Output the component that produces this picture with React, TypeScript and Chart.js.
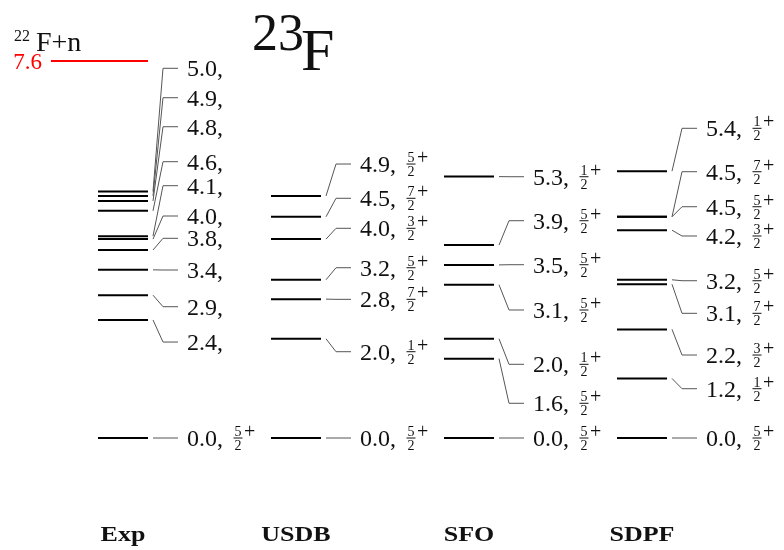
import React, { useEffect, useRef } from "react";
import { Chart, registerables } from "chart.js";

Chart.register(...registerables);

// ---------- data ----------
const columnNames = ["Exp", "USDB", "SFO", "SDPF"];

const expEnergies = [0.0, 2.38, 2.88, 3.39, 3.79, 4.01, 4.07, 4.58, 4.78, 4.88, 4.97];
const expSpins: (number | null)[] = [5, null, null, null, null, null, null, null, null, null, null];

const usdbEnergies = [0.0, 2.0, 2.8, 3.19, 4.01, 4.46, 4.88];
const usdbSpins: (number | null)[] = [5, 1, 7, 5, 3, 7, 5];

const sfoEnergies = [0.0, 1.6, 2.0, 3.09, 3.49, 3.89, 5.27];
const sfoSpins: (number | null)[] = [5, 5, 1, 5, 5, 5, 1];

const sdpfEnergies = [0.0, 1.2, 2.19, 3.1, 3.19, 4.19, 4.46, 4.46, 5.38];
const sdpfSpins: (number | null)[] = [5, 1, 3, 7, 5, 3, 5, 7, 1];

const thresholdEnergy = 7.6;
const thresholdLabel = "F+n";
const thresholdMass = "22";
const nucleusMass = "23";
const nucleusSymbol = "F";

// ---------- layout (label positions, in energy units, spread to avoid overlap) ----------
const expLabelAt = [0, 1.935, 2.647, 3.387, 4.026, 4.476, 5.087, 5.571, 6.276, 6.861, 7.454];
const usdbLabelAt = [0, 1.74, 2.796, 3.433, 4.228, 4.833, 5.524];
const sfoLabelAt = [0, 0.7, 1.486, 2.581, 3.494, 4.381, 5.268];
const sdpfLabelAt = [0, 0.994, 1.673, 2.514, 3.171, 4.073, 4.663, 5.369, 6.244];

const columns = [
  { energies: expEnergies, spins: expSpins, labelAt: expLabelAt },
  { energies: usdbEnergies, spins: usdbSpins, labelAt: usdbLabelAt },
  { energies: sfoEnergies, spins: sfoSpins, labelAt: sfoLabelAt },
  { energies: sdpfEnergies, spins: sdpfSpins, labelAt: sdpfLabelAt },
];

const LEVEL_W = 0.289; // width of a level line in column units
const THRESH_START = -0.272;
const SERIF = "'Liberation Serif', 'DejaVu Serif', serif";

const levelPlugin = {
  id: "levelLabels",
  afterDatasetsDraw(chart: any) {
    const ctx = chart.ctx as CanvasRenderingContext2D;
    const xs = chart.scales.x;
    const ys = chart.scales.y;
    ctx.save();

    columns.forEach((col, c) => {
      const xEnd = xs.getPixelForValue(c + LEVEL_W);
      col.energies.forEach((E, i) => {
        const yL = ys.getPixelForValue(E);
        const yT = ys.getPixelForValue(col.labelAt[i]);
        ctx.strokeStyle = "#555";
        ctx.lineWidth = 1;
        ctx.beginPath();
        ctx.moveTo(xEnd + 5, yL);
        ctx.lineTo(xEnd + 15, yT);
        ctx.lineTo(xEnd + 30, yT);
        ctx.stroke();

        const tx = xEnd + 39;
        const s = E.toFixed(1) + ",";
        ctx.fillStyle = "#111";
        ctx.font = `24px ${SERIF}`;
        ctx.textAlign = "left";
        ctx.textBaseline = "alphabetic";
        ctx.fillText(s, tx, yT + 8);
        const spin = col.spins[i];
        if (spin != null) {
          const fx = tx + ctx.measureText(s).width + 11;
          ctx.font = `14px ${SERIF}`;
          ctx.textAlign = "center";
          ctx.fillText(String(spin), fx + 4, yT - 2);
          ctx.fillText("2", fx + 4, yT + 12);
          ctx.fillRect(fx - 0.5, yT - 0.5, 9, 1);
          ctx.font = `20px ${SERIF}`;
          ctx.textAlign = "left";
          ctx.fillText("+", fx + 10, yT);
        }
      });
    });

    // threshold label
    const yTh = ys.getPixelForValue(thresholdEnergy);
    const xTh = xs.getPixelForValue(THRESH_START);
    ctx.fillStyle = "#ff0000";
    ctx.font = `23px ${SERIF}`;
    ctx.textAlign = "right";
    ctx.fillText(thresholdEnergy.toFixed(1), xTh - 9, yTh + 8);
    ctx.fillStyle = "#111";
    ctx.textAlign = "left";
    ctx.font = `16px ${SERIF}`;
    ctx.fillText(thresholdMass, 14, yTh - 20);
    ctx.font = `28px ${SERIF}`;
    ctx.fillText(thresholdLabel, 36, yTh - 10);

    // title
    ctx.font = `52px ${SERIF}`;
    ctx.fillText(nucleusMass, 252, 50);
    ctx.font = `60px ${SERIF}`;
    ctx.fillText(nucleusSymbol, 301, 70);

    // column names
    columnNames.forEach((name, c) => {
      const cx = (xs.getPixelForValue(c) + xs.getPixelForValue(c + LEVEL_W)) / 2;
      ctx.save();
      ctx.translate(cx, 541);
      ctx.scale(1.3, 1);
      ctx.font = `bold 20px ${SERIF}`;
      ctx.textAlign = "center";
      ctx.fillStyle = "#111";
      ctx.fillText(name, 0, 0);
      ctx.restore();
    });

    ctx.restore();
  },
};

export default function App() {
  const ref = useRef<HTMLCanvasElement>(null);
  useEffect(() => {
    if (!ref.current) return;
    const datasets: any[] = [];
    columns.forEach((col, c) => {
      col.energies.forEach((E) => {
        datasets.push({
          data: [
            { x: c, y: E },
            { x: c + LEVEL_W, y: E },
          ],
          borderColor: "#000",
          borderWidth: 2,
          pointRadius: 0,
          borderCapStyle: "butt",
        });
      });
    });
    datasets.push({
      data: [
        { x: THRESH_START, y: thresholdEnergy },
        { x: LEVEL_W, y: thresholdEnergy },
      ],
      borderColor: "#ff0000",
      borderWidth: 2,
      pointRadius: 0,
    });
    const chart = new Chart(ref.current, {
      type: "line",
      data: { datasets },
      options: {
        animation: false,
        responsive: false,
        layout: { padding: 0 },
        plugins: { legend: { display: false }, tooltip: { enabled: false }, title: { display: false } },
        scales: {
          x: { type: "linear", display: false, min: -0.5665, max: 3.9653 },
          y: { type: "linear", display: false, min: -2.258, max: 8.831 },
        },
        events: [],
      },
      plugins: [levelPlugin],
    });
    return () => chart.destroy();
  }, []);
  return (
    <div style={{ position: "fixed", left: 0, top: 0, width: 784, height: 550, background: "#fff" }}>
      <canvas ref={ref} width={784} height={550} style={{ display: "block" }} />
    </div>
  );
}
